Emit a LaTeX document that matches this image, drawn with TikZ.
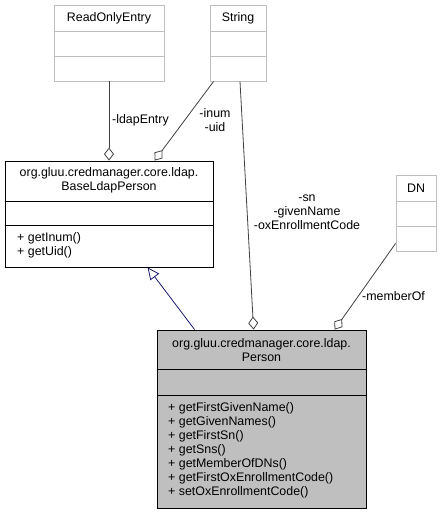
\documentclass[tikz,border=0pt]{standalone}
\usepackage{fontspec}
\setmainfont{Liberation Sans}
\usetikzlibrary{arrows.meta,calc}
\definecolor{boxgray}{HTML}{BFBFBF}
\definecolor{edgegray}{HTML}{404040}
\definecolor{inhblue}{HTML}{191970}
\tikzset{
	extbox/.style={draw=boxgray, line width=0.8pt, rectangle, inner sep=0pt},
	clsbox/.style={draw=black, line width=0.8pt, rectangle, inner sep=0pt},
	txt/.style={font=\fontsize{12.4}{14}\selectfont, inner sep=0pt, align=center},
	mtxt/.style={txt, align=left, anchor=west},
	assoc/.style={draw=edgegray, line width=0.8pt, -{Diamond[open,length=13pt,width=10pt]}},
	inherit/.style={draw=inhblue, line width=0.8pt, -{Triangle[open,length=12pt,width=11pt]}},
}

\begin{document}
\begin{tikzpicture}[x=1pt,y=-1pt]
		%%%%% START %%%%%
		\useasboundingbox (0,0) rectangle (441,515);
		
		% ReadOnlyEntry
		\node[extbox, minimum width=110pt, minimum height=76pt] (roe) at (109,43) {};
		\draw[boxgray, line width=0.8pt] (roe.west |- 0,31) -- (roe.east |- 0,31);
		\draw[boxgray, line width=0.8pt] (roe.west |- 0,56) -- (roe.east |- 0,56);
		\node[txt] (roetitle) at (109,18) {ReadOnlyEntry};
		
		% String
		\node[extbox, minimum width=56pt, minimum height=76pt] (str) at (238,43) {};
		\draw[boxgray, line width=0.8pt] (str.west |- 0,31) -- (str.east |- 0,31);
		\draw[boxgray, line width=0.8pt] (str.west |- 0,56) -- (str.east |- 0,56);
		\node[txt] (strtitle) at (238,18) {String};
		
		% DN
		\node[extbox, minimum width=40pt, minimum height=76pt] (dn) at (416,213) {};
		\draw[boxgray, line width=0.8pt] (dn.west |- 0,201) -- (dn.east |- 0,201);
		\draw[boxgray, line width=0.8pt] (dn.west |- 0,226) -- (dn.east |- 0,226);
		\node[txt] (dntitle) at (416,188) {DN};
		
		% BaseLdapPerson
		\node[clsbox, fill=white, minimum width=208pt, minimum height=106pt] (base) at (109,214) {};
		\draw[line width=0.8pt] (base.west |- 0,201) -- (base.east |- 0,201);
		\draw[line width=0.8pt] (base.west |- 0,225) -- (base.east |- 0,225);
		\node[txt] (basetitle) at (109,180) {org.gluu.credmanager.core.ldap.\\BaseLdapPerson};
		\node[mtxt] (basemeth) at (17,245) {+ getInum()\\+ getUid()};
		
		% Person
		\node[clsbox, fill=boxgray, minimum width=209pt, minimum height=178pt] (per) at (261.5,419) {};
		\draw[line width=0.8pt] (per.west |- 0,369) -- (per.east |- 0,369);
		\draw[line width=0.8pt] (per.west |- 0,395) -- (per.east |- 0,395);
		\node[txt] (pertitle) at (261.5,350) {org.gluu.credmanager.core.ldap.\\Person};
		\node[mtxt] (permeth) at (168,450.5) {+ getFirstGivenName()\\+ getGivenNames()\\+ getFirstSn()\\+ getSns()\\+ getMemberOfDNs()\\+ getFirstOxEnrollmentCode()\\+ setOxEnrollmentCode()};
		
		% connectors
		\draw[assoc] (roe.south) -- (roe.south |- base.north);
		\node[txt, anchor=west] (ldaplbl) at (112,120) {-ldapEntry};
		
		\draw[assoc] ($(str.south west)+(4,0)$) -- ($(base.north west)+(150,0)$);
		\node[txt] (inumlbl) at (215,120) {-inum\\-uid};
		
		\draw[assoc] ($(str.south)+(2,0)$) -- ($(per.north west)+(97,0)$);
		\node[txt] (snlbl) at (307,212.5) {-sn\\-givenName\\-oxEnrollmentCode};
		
		\draw[assoc] ($(dn.south west)+(0,-8)$) -- ($(per.north west)+(178,0)$);
		\node[txt, anchor=west] (memlbl) at (362,296) {-memberOf};
		
		\draw[inherit] ($(per.north west)+(38,0)$) -- ($(base.south west)+(143,0)$);
		%%%%% END %%%%%
\end{tikzpicture}
\end{document}
